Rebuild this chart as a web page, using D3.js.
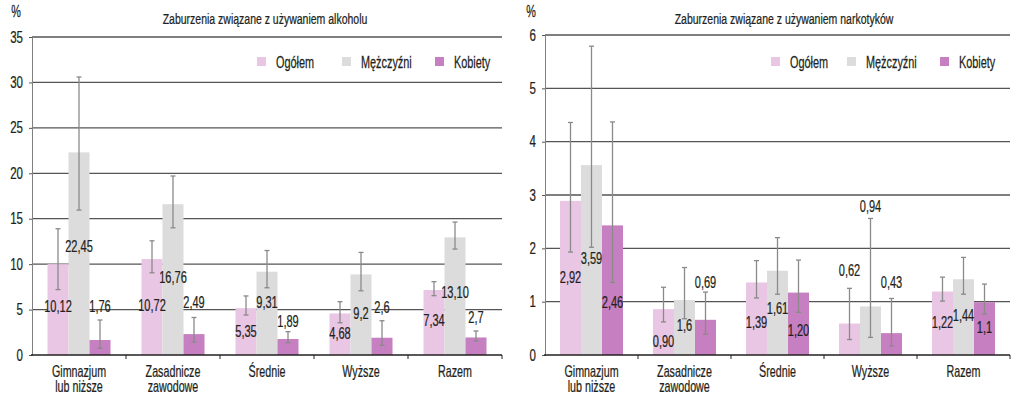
<!DOCTYPE html>
<html>
<head>
<meta charset="utf-8">
<script src="https://cdn.jsdelivr.net/npm/d3@7"></script>
<style>
  html, body { margin: 0; padding: 0; background: #fff; }
  svg { display: block; }
  text { font-family: "Liberation Sans", Arial, sans-serif; fill: #231f20; stroke: #231f20; stroke-width: 0.25px; }
</style>
</head>
<body>
<svg id="chart" width="1024" height="410"></svg>
<script>
// ---------- DATA ----------
const categories = ["Gimnazjum\nlub niższe", "Zasadnicze\nzawodowe", "Średnie", "Wyższe", "Razem"];
const seriesNames = ["Ogółem", "Mężczyźni", "Kobiety"];

// Alcohol
const alcTitle = "Zaburzenia związane z używaniem alkoholu";
const alcTicks = [0, 5, 10, 15, 20, 25, 30, 35];
const alcOgolem    = [10.0, 10.56, 5.15, 4.57, 7.15];
const alcMezczyzni = [22.3, 16.6, 9.17, 8.87, 12.95];
const alcKobiety   = [1.65, 2.3, 1.76, 1.9, 1.93];
const alcOgolemLow     = [7.2, 9.05, 4.4, 3.55, 6.53];
const alcOgolemHigh    = [13.9, 12.57, 6.5, 5.87, 8.07];
const alcMezczyzniLow  = [15.95, 14.0, 7.4, 7.07, 11.66];
const alcMezczyzniHigh = [30.6, 19.7, 11.5, 11.29, 14.63];
const alcKobietyLow    = [0.74, 1.43, 1.36, 1.06, 1.54];
const alcKobietyHigh   = [3.85, 4.13, 2.57, 3.77, 2.64];
const alcOgolemLabels    = ["10,12", "10,72", "5,35", "4,68", "7,34"];
const alcMezczyzniLabels = ["22,45", "16,76", "9,31", "9,2", "13,10"];
const alcKobietyLabels   = ["1,76", "2,49", "1,89", "2,6", "2,7"];
// value level at which each label is centred
const alcOgolemLabelAt    = [5.43, 5.5, 2.64, 2.45, 3.85];
const alcMezczyzniLabelAt = [12.0, 8.62, 5.87, 4.59, 6.9];
const alcKobietyLabelAt   = [5.43, 5.87, 3.74, 5.32, 4.22];

// Drugs
const drgTitle = "Zaburzenia związane z używaniem narkotyków";
const drgTicks = [0, 1, 2, 3, 4, 5, 6];
const drgOgolem    = [2.89, 0.86, 1.36, 0.59, 1.19];
const drgMezczyzni = [3.56, 1.03, 1.58, 0.91, 1.42];
const drgKobiety   = [2.43, 0.66, 1.17, 0.41, 0.99];
const drgOgolemLow     = [1.93, 0.62, 1.07, 0.29, 1.01];
const drgOgolemHigh    = [4.36, 1.27, 1.77, 1.25, 1.46];
const drgMezczyzniLow  = [2.02, 0.68, 1.14, 0.33, 1.14];
const drgMezczyzniHigh = [5.79, 1.64, 2.2, 2.56, 1.83];
const drgKobietyLow    = [1.36, 0.39, 0.8, 0.17, 0.77];
const drgKobietyHigh   = [4.37, 1.18, 1.78, 1.06, 1.33];
const drgOgolemLabels    = ["2,92", "0,90", "1,39", "0,62", "1,22"];
const drgMezczyzniLabels = ["3,59", "1,6", "1,61", "0,94", "1,44"];
const drgKobietyLabels   = ["2,46", "0,69", "1,20", "0,43", "1,1"];
const drgOgolemLabelAt    = [1.47, 0.27, 0.62, 1.59, 0.62];
const drgMezczyzniLabelAt = [1.83, 0.56, 0.88, 2.79, 0.75];
const drgKobietyLabelAt   = [1.0, 1.37, 0.47, 1.37, 0.53];

// ---------- STYLE ----------
const colors = ["#e9c6e3", "#dcdcdc", "#c67fc0"];
const SX = 0.68; // horizontal condensing of text

const svg = d3.select("#chart");

function ctext(parent, x, y, str, size, anchor, dy, sx) {
  return parent.append("text")
    .attr("transform", `translate(${x},${y}) scale(${sx || SX},1)`)
    .attr("text-anchor", anchor || "middle")
    .attr("dy", dy || 0)
    .attr("font-size", size)
    .text(str);
}

function drawChart(cfg) {
  const g = svg.append("g");
  const x = d3.scaleBand().domain(categories).range([cfg.x0, cfg.x1]).paddingInner(0).paddingOuter(0);
  const y = d3.scaleLinear().domain([0, d3.max(cfg.ticks)]).range([cfg.yBottom, cfg.yTop]);
  const groupW = 63;
  const xs = d3.scaleBand().domain(seriesNames).range([0, groupW]);
  const off = (x.bandwidth() - groupW) / 2;

  // grid lines
  g.append("g").selectAll("line").data(cfg.ticks.filter(t => t > 0)).join("line")
    .attr("x1", cfg.x0).attr("x2", cfg.x1)
    .attr("y1", d => y(d)).attr("y2", d => y(d))
    .attr("stroke", "#555").attr("stroke-width", 1.3);

  // y axis
  const ya = g.append("g").attr("transform", `translate(${cfg.x0},0)`)
    .call(d3.axisLeft(y).tickValues(cfg.ticks).tickSize(3).tickFormat(d3.format("d")));
  ya.select(".domain").attr("stroke", "#808080").attr("stroke-width", 1);
  ya.selectAll(".tick line").attr("stroke", "#555");
  ya.selectAll(".tick text")
    .attr("x", null)
    .attr("transform", `translate(-9,0) scale(0.72,1)`)
    .attr("font-size", 16).attr("fill", "#231f20")
    .style("font-family", '"Liberation Sans", Arial, sans-serif');

  // bars
  const series = cfg.series;
  series.forEach((s, si) => {
    g.append("g").selectAll("rect").data(s.values).join("rect")
      .attr("x", (d, i) => x(categories[i]) + off + xs(seriesNames[si]))
      .attr("width", xs.bandwidth())
      .attr("y", d => y(d))
      .attr("height", d => y(0) - y(d))
      .attr("fill", colors[si]);
  });

  // error bars
  series.forEach((s, si) => {
    const eg = g.append("g").attr("stroke", "#8a8a8a").attr("stroke-width", 1.3);
    s.values.forEach((v, i) => {
      const cx = x(categories[i]) + off + xs(seriesNames[si]) + xs.bandwidth() / 2;
      eg.append("line").attr("x1", cx).attr("x2", cx).attr("y1", y(s.low[i])).attr("y2", y(s.high[i]));
      eg.append("line").attr("x1", cx - 2.5).attr("x2", cx + 2.5).attr("y1", y(s.low[i])).attr("y2", y(s.low[i]));
      eg.append("line").attr("x1", cx - 2.5).attr("x2", cx + 2.5).attr("y1", y(s.high[i])).attr("y2", y(s.high[i]));
    });
  });

  // x axis baseline
  g.append("line").attr("x1", cfg.x0 - 1).attr("x2", cfg.x1).attr("y1", y(0)).attr("y2", y(0))
    .attr("stroke", "#231f20").attr("stroke-width", 1.5);
  // band boundary ticks
  g.append("g").selectAll("line").data(categories).join("line")
    .attr("x1", d => x(d) + x.bandwidth()).attr("x2", d => x(d) + x.bandwidth())
    .attr("y1", y(0)).attr("y2", y(0) + 4)
    .attr("stroke", "#231f20").attr("stroke-width", 1);

  // category labels
  categories.forEach(c => {
    c.split("\n").forEach((l, li) => {
      ctext(g, x(c) + x.bandwidth() / 2, y(0) + 22 + li * 15, l, 16, "middle", 0, 0.67);
    });
  });

  // value labels
  series.forEach((s, si) => {
    s.labels.forEach((lab, i) => {
      const cx = x(categories[i]) + off + xs(seriesNames[si]) + xs.bandwidth() / 2;
      ctext(g, cx, y(s.labelAt[i]), lab, 17, "middle", "0.36em", 0.65);
    });
  });

  // title and unit
  ctext(g, cfg.titleX, 24, cfg.title, 15, "middle", 0, 0.70);
  ctext(g, cfg.pctX, 17, "%", 16);

  // legend
  seriesNames.forEach((n, i) => {
    const lx = cfg.x0 + cfg.legendX[i];
    g.append("rect").attr("x", lx).attr("y", 57).attr("width", 9).attr("height", 9).attr("fill", colors[i]);
    ctext(g, lx + 19, 62, n, 16, "start", "0.36em", 0.68);
  });
}

drawChart({
  x0: 32, x1: 502, yTop: 37, yBottom: 355, ticks: alcTicks, title: alcTitle, titleX: 265, pctX: 16,
  legendX: [225, 310, 403],
  series: [
    { values: alcOgolem, low: alcOgolemLow, high: alcOgolemHigh, labels: alcOgolemLabels, labelAt: alcOgolemLabelAt },
    { values: alcMezczyzni, low: alcMezczyzniLow, high: alcMezczyzniHigh, labels: alcMezczyzniLabels, labelAt: alcMezczyzniLabelAt },
    { values: alcKobiety, low: alcKobietyLow, high: alcKobietyHigh, labels: alcKobietyLabels, labelAt: alcKobietyLabelAt }
  ]
});

drawChart({
  x0: 545, x1: 1010, yTop: 35, yBottom: 355, ticks: drgTicks, title: drgTitle, titleX: 784, pctX: 531,
  legendX: [226, 302, 395],
  series: [
    { values: drgOgolem, low: drgOgolemLow, high: drgOgolemHigh, labels: drgOgolemLabels, labelAt: drgOgolemLabelAt },
    { values: drgMezczyzni, low: drgMezczyzniLow, high: drgMezczyzniHigh, labels: drgMezczyzniLabels, labelAt: drgMezczyzniLabelAt },
    { values: drgKobiety, low: drgKobietyLow, high: drgKobietyHigh, labels: drgKobietyLabels, labelAt: drgKobietyLabelAt }
  ]
});
</script>
</body>
</html>
